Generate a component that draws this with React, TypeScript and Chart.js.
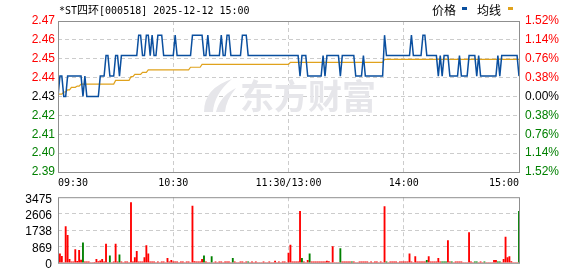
import React, { useEffect, useRef } from "react";
import { Chart, registerables } from "chart.js";

Chart.register(...registerables);

const titleParts = ["*ST", "四环", "[000518] 2025-12-12 15:00"];
const legendLabels = ["价格", "均线"];
const watermarkText = "东方财富";
const prevClose = 2.43;
const pctSteps = [-1.52, -1.14, -0.76, -0.38, 0, 0.38, 0.76, 1.14, 1.52];
const timeIdx = [0, 60, 120, 180, 240];
const timeLabels = ["09:30", "10:30", "11:30/13:00", "14:00", "15:00"];
const volMax = 3475;
const volTickLabels = ["0", "869", "1738", "2606", "3475"];

const price = [
  2.43, 2.44, 2.44, 2.43, 2.43, 2.44, 2.44, 2.44, 2.44, 2.44,
  2.44, 2.44, 2.44, 2.43, 2.44, 2.43, 2.43, 2.43, 2.43, 2.43,
  2.43, 2.43, 2.44, 2.44, 2.44, 2.45, 2.45, 2.44, 2.44, 2.44,
  2.45, 2.45, 2.44, 2.45, 2.45, 2.45, 2.45, 2.45, 2.45, 2.45,
  2.45, 2.45, 2.46, 2.46, 2.45, 2.45, 2.46, 2.46, 2.45, 2.46,
  2.45, 2.45, 2.46, 2.46, 2.46, 2.45, 2.45, 2.45, 2.45, 2.45,
  2.45, 2.46, 2.45, 2.45, 2.45, 2.45, 2.45, 2.45, 2.45, 2.45,
  2.46, 2.46, 2.46, 2.46, 2.46, 2.46, 2.45, 2.45, 2.46, 2.45,
  2.45, 2.45, 2.45, 2.45, 2.45, 2.46, 2.45, 2.45, 2.46, 2.46,
  2.45, 2.45, 2.45, 2.45, 2.45, 2.45, 2.46, 2.46, 2.46, 2.45,
  2.45, 2.45, 2.45, 2.45, 2.45, 2.45, 2.45, 2.45, 2.45, 2.45,
  2.45, 2.45, 2.45, 2.45, 2.45, 2.45, 2.45, 2.45, 2.45, 2.45,
  2.45, 2.45, 2.45, 2.45, 2.45, 2.45, 2.44, 2.45, 2.45, 2.45,
  2.44, 2.44, 2.44, 2.44, 2.44, 2.44, 2.44, 2.44, 2.45, 2.44,
  2.45, 2.45, 2.45, 2.45, 2.45, 2.45, 2.45, 2.44, 2.45, 2.45,
  2.45, 2.45, 2.45, 2.45, 2.45, 2.44, 2.44, 2.44, 2.44, 2.45,
  2.44, 2.44, 2.44, 2.44, 2.44, 2.44, 2.44, 2.44, 2.44, 2.44,
  2.46, 2.45, 2.45, 2.45, 2.45, 2.45, 2.45, 2.45, 2.45, 2.45,
  2.45, 2.45, 2.45, 2.45, 2.46, 2.45, 2.45, 2.45, 2.45, 2.45,
  2.46, 2.46, 2.45, 2.45, 2.45, 2.45, 2.45, 2.45, 2.44, 2.45,
  2.44, 2.45, 2.45, 2.45, 2.44, 2.44, 2.44, 2.44, 2.44, 2.45,
  2.44, 2.44, 2.44, 2.44, 2.45, 2.45, 2.45, 2.45, 2.44, 2.45,
  2.44, 2.44, 2.44, 2.44, 2.44, 2.44, 2.44, 2.44, 2.44, 2.45,
  2.44, 2.45, 2.45, 2.45, 2.45, 2.45, 2.45, 2.45, 2.45, 2.45,
  2.44,
];

const avgPrice = [
  2.4312, 2.4312, 2.4312, 2.4322, 2.4322, 2.4332, 2.4332, 2.4345, 2.4345, 2.4345,
  2.4351, 2.4351, 2.4361, 2.4361, 2.4361, 2.4361, 2.4361, 2.4361, 2.4361, 2.4361,
  2.4361, 2.4361, 2.4361, 2.4361, 2.4361, 2.4361, 2.4361, 2.4361, 2.4361, 2.4361,
  2.4379, 2.4379, 2.4379, 2.4379, 2.4379, 2.4379, 2.4379, 2.4379, 2.4397, 2.4397,
  2.4408, 2.4408, 2.4408, 2.4408, 2.4418, 2.4418, 2.4418, 2.443, 2.443, 2.443,
  2.443, 2.443, 2.443, 2.443, 2.443, 2.443, 2.443, 2.443, 2.443, 2.443,
  2.443, 2.443, 2.443, 2.443, 2.443, 2.443, 2.443, 2.443, 2.443, 2.4443,
  2.4443, 2.4443, 2.4443, 2.4443, 2.4443, 2.4457, 2.4457, 2.4457, 2.4457, 2.4457,
  2.4457, 2.4457, 2.4457, 2.4457, 2.4457, 2.4457, 2.4457, 2.4457, 2.4457, 2.4457,
  2.4457, 2.4457, 2.4457, 2.4457, 2.4457, 2.4457, 2.4457, 2.4457, 2.4457, 2.4457,
  2.4457, 2.4457, 2.4457, 2.4457, 2.4457, 2.4457, 2.4457, 2.4457, 2.4457, 2.4457,
  2.4457, 2.4457, 2.4457, 2.4457, 2.4457, 2.4457, 2.4457, 2.4457, 2.4457, 2.4457,
  2.4457, 2.4467, 2.4467, 2.4467, 2.4467, 2.4467, 2.4467, 2.4467, 2.4467, 2.4467,
  2.4467, 2.4467, 2.4467, 2.4467, 2.4467, 2.4467, 2.4467, 2.4467, 2.4467, 2.4467,
  2.4467, 2.4467, 2.4467, 2.4467, 2.4467, 2.4467, 2.4467, 2.4467, 2.4467, 2.4467,
  2.4467, 2.4467, 2.4467, 2.4467, 2.4467, 2.4467, 2.4467, 2.4467, 2.4467, 2.4467,
  2.4467, 2.4467, 2.4467, 2.4467, 2.4467, 2.4467, 2.4467, 2.4467, 2.4467, 2.4467,
  2.4482, 2.4482, 2.4482, 2.4482, 2.4482, 2.4482, 2.4482, 2.4482, 2.4482, 2.4482,
  2.4482, 2.4482, 2.4482, 2.4482, 2.4482, 2.4482, 2.4482, 2.4482, 2.4482, 2.4482,
  2.4482, 2.4482, 2.4482, 2.4482, 2.4482, 2.4482, 2.4482, 2.4482, 2.4482, 2.4482,
  2.4482, 2.4482, 2.4482, 2.4482, 2.4482, 2.4482, 2.4482, 2.4482, 2.4482, 2.4482,
  2.4482, 2.4482, 2.4482, 2.4482, 2.4482, 2.4482, 2.4482, 2.4482, 2.4482, 2.4482,
  2.4482, 2.4482, 2.4482, 2.4482, 2.4482, 2.4482, 2.4482, 2.4482, 2.4482, 2.4482,
  2.4482, 2.4482, 2.4482, 2.4482, 2.4482, 2.4482, 2.4482, 2.4482, 2.4482, 2.4482,
  2.4482,
];

const volume = [
  0, 470, 344, 0, 1925, 1455, 188, 50, 50, 704,
  80, 657, 150, 1064, 50, 50, 50, 0, 0, 30,
  188, 60, 100, 188, 50, 986, 0, 375, 0, 50,
  986, 50, 423, 50, 0, 50, 50, 0, 3193, 50,
  282, 610, 50, 50, 50, 282, 908, 470, 50, 50,
  50, 0, 50, 0, 50, 50, 0, 235, 50, 125,
  50, 50, 50, 0, 50, 50, 0, 50, 50, 0,
  3005, 60, 50, 50, 50, 188, 375, 50, 0, 0,
  329, 0, 50, 0, 50, 50, 0, 50, 50, 50,
  0, 235, 50, 0, 0, 50, 50, 0, 50, 50,
  0, 50, 0, 50, 0, 0, 0, 50, 0, 0,
  50, 0, 0, 94, 0, 50, 0, 50, 50, 0,
  516, 939, 50, 50, 50, 50, 2723, 235, 50, 0,
  125, 470, 50, 50, 50, 50, 50, 50, 50, 50,
  94, 60, 0, 861, 0, 0, 0, 751, 50, 50,
  50, 50, 50, 50, 50, 0, 0, 50, 50, 50,
  50, 50, 0, 50, 0, 50, 50, 0, 50, 0,
  2974, 50, 0, 50, 50, 50, 50, 0, 50, 50,
  50, 50, 50, 470, 50, 0, 329, 50, 50, 50,
  50, 50, 125, 329, 50, 50, 50, 50, 235, 50,
  50, 50, 50, 1174, 50, 50, 0, 50, 50, 50,
  50, 0, 0, 0, 1596, 50, 0, 50, 50, 0,
  50, 0, 50, 0, 0, 0, 0, 125, 125, 50,
  50, 0, 188, 1361, 282, 329, 60, 0, 0, 0,
  2723,
];

const volDownIdx = [13, 27, 32, 76, 80, 91, 99, 127, 131, 147, 153, 171, 192, 200, 201, 202, 205, 217, 218, 222, 229, 230, 240];

const RED = "#ff0000";
const GREEN = "#008000";
const BLACK = "#000000";
const PRICE_COLOR = "#0a4f9f";
const AVG_COLOR = "#e0a21c";
const GRID = "#cccccc";
const FRAME = "#8f8f8f";
const DASH = [4, 3];
const NUM_FONT = { family: "'Liberation Sans', Arial, sans-serif", size: 12 };
const MONO = "'DejaVu Sans Mono', 'Liberation Mono', monospace";
const CJK = "'Noto Sans CJK SC', sans-serif";

const priceTicks = pctSteps.map((p) => prevClose * (1 + p / 100));
const volTicks = volTickLabels.map((_, i) => (volMax * i) / (volTickLabels.length - 1));

const colorFor = (v: number) =>
  v > prevClose + 1e-9 ? RED : v < prevClose - 1e-9 ? GREEN : BLACK;

const framePlugin = {
  id: "frame",
  afterDatasetsDraw(chart: any) {
    const { ctx, chartArea: a } = chart;
    ctx.save();
    ctx.strokeStyle = FRAME;
    ctx.lineWidth = 1;
    ctx.strokeRect(a.left + 0.5, a.top + 0.5, a.right - a.left, a.bottom - a.top);
    ctx.restore();
  },
};

const headerPlugin = {
  id: "header",
  afterDraw(chart: any) {
    const ctx = chart.ctx;
    ctx.save();
    ctx.fillStyle = "#000";
    ctx.textBaseline = "alphabetic";
    let x = 59;
    titleParts.forEach((part) => {
      const isCjk = /[\u4e00-\u9fff]/.test(part);
      ctx.font = isCjk ? `11px ${CJK}` : `10px ${MONO}`;
      ctx.fillText(part, x, 14);
      x += ctx.measureText(part).width;
    });
    ctx.font = `12px ${CJK}`;
    ctx.fillText(legendLabels[0], 432, 15);
    ctx.fillStyle = PRICE_COLOR;
    ctx.fillRect(462, 7, 5, 3);
    ctx.fillStyle = "#000";
    ctx.fillText(legendLabels[1], 477, 15);
    ctx.fillStyle = AVG_COLOR;
    ctx.fillRect(508, 7, 5, 3);
    ctx.restore();
  },
};

const watermarkPlugin = {
  id: "watermark",
  beforeDatasetsDraw(chart: any) {
    const ctx = chart.ctx;
    ctx.save();
    ctx.fillStyle = "#e6e6ea";
    ctx.font = `bold 34px ${CJK}`;
    ctx.textBaseline = "alphabetic";
    ctx.fillText(watermarkText, 240, 109);
    ctx.beginPath();
    ctx.moveTo(204, 112);
    ctx.quadraticCurveTo(204, 88, 232, 79);
    ctx.quadraticCurveTo(214, 94, 213, 112);
    ctx.closePath();
    ctx.fill();
    ctx.beginPath();
    ctx.moveTo(216, 112);
    ctx.quadraticCurveTo(220, 96, 236, 88);
    ctx.quadraticCurveTo(226, 100, 225, 112);
    ctx.closePath();
    ctx.fill();
    ctx.restore();
  },
};

const edgeTransparent = (edges: number[]) => (ctx: any) => {
  const v = ctx.tick ? ctx.tick.value : null;
  if (v === null) return GRID;
  return edges.some((e) => Math.abs(e - v) < 1e-9) ? "rgba(0,0,0,0)" : GRID;
};

export default function App() {
  const priceRef = useRef<HTMLCanvasElement>(null);
  const volRef = useRef<HTMLCanvasElement>(null);

  useEffect(() => {
    const xTimeScale = (showLabels: boolean) => ({
      type: "linear",
      min: 0,
      max: 240,
      offset: false,
      afterBuildTicks: (s: any) => {
        s.ticks = timeIdx.map((v) => ({ value: v }));
      },
      afterFit: (s: any) => {
        s.height = showLabels ? 20 : 0;
      },
      ticks: {
        display: showLabels,
        autoSkip: false,
        maxRotation: 0,
        align: "inner",
        padding: 5,
        color: "#000",
        font: { family: MONO, size: 10 },
        callback: (v: number) => timeLabels[timeIdx.indexOf(v)] ?? "",
      },
      grid: { color: edgeTransparent([0, 240]), drawTicks: false, lineWidth: 1, offset: false },
      border: { display: false, dash: DASH },
    });

    const pc = new Chart(priceRef.current!, {
      type: "line",
      data: {
        datasets: [
          {
            data: price.map((y, i) => ({ x: i, y })),
            borderColor: PRICE_COLOR,
            borderWidth: 1.5,
            pointRadius: 0,
            tension: 0,
          },
          {
            data: avgPrice.map((y, i) => ({ x: i, y })),
            borderColor: AVG_COLOR,
            borderWidth: 1.2,
            pointRadius: 0,
            tension: 0,
          },
        ],
      },
      options: {
        animation: false,
        responsive: false,
        maintainAspectRatio: false,
        layout: { padding: { top: 21, left: 0, right: 0, bottom: 0 } },
        plugins: { legend: { display: false }, tooltip: { enabled: false } },
        scales: {
          x: xTimeScale(true) as any,
          y: {
            type: "linear",
            position: "left",
            min: priceTicks[0],
            max: priceTicks[priceTicks.length - 1],
            afterBuildTicks: (s: any) => {
              s.ticks = priceTicks.map((v) => ({ value: v }));
            },
            afterFit: (s: any) => {
              s.width = 58;
            },
            ticks: {
              padding: 3,
              font: NUM_FONT,
              color: (ctx: any) => colorFor(ctx.tick.value),
              callback: (v: number) => v.toFixed(2),
            },
            grid: {
              color: edgeTransparent([priceTicks[0], priceTicks[priceTicks.length - 1]]),
              drawTicks: false,
            },
            border: { display: false, dash: DASH },
          },
          y2: {
            type: "linear",
            position: "right",
            min: priceTicks[0],
            max: priceTicks[priceTicks.length - 1],
            afterBuildTicks: (s: any) => {
              s.ticks = priceTicks.map((v) => ({ value: v }));
            },
            afterFit: (s: any) => {
              s.width = 59;
            },
            ticks: {
              padding: 6,
              font: NUM_FONT,
              color: (ctx: any) => colorFor(ctx.tick.value),
              callback: (v: number) => Math.abs((v / prevClose - 1) * 100).toFixed(2) + "%",
            },
            grid: { display: false, drawTicks: false },
            border: { display: false },
          },
        },
      },
      plugins: [watermarkPlugin, framePlugin, headerPlugin],
    } as any);

    const downSet = new Set(volDownIdx);
    const vc = new Chart(volRef.current!, {
      type: "bar",
      data: {
        datasets: [
          {
            data: volume.map((y, i) => ({ x: i, y })),
            backgroundColor: volume.map((_, i) => (downSet.has(i) ? GREEN : RED)),
            barThickness: 1.2,
            borderWidth: 0,
          },
        ],
      },
      options: {
        animation: false,
        responsive: false,
        maintainAspectRatio: false,
        layout: { padding: { top: 12, left: 0, right: 59, bottom: 6 } },
        plugins: { legend: { display: false }, tooltip: { enabled: false } },
        scales: {
          x: xTimeScale(false) as any,
          y: {
            type: "linear",
            position: "left",
            min: 0,
            max: volMax,
            afterBuildTicks: (s: any) => {
              s.ticks = volTicks.map((v) => ({ value: v }));
            },
            afterFit: (s: any) => {
              s.width = 58;
            },
            ticks: {
              padding: 6,
              labelOffset: 2,
              font: NUM_FONT,
              color: "#000",
              callback: (v: number) => volTickLabels[volTicks.indexOf(v)] ?? "",
            },
            grid: { color: edgeTransparent([0, volMax]), drawTicks: false },
            border: { display: false, dash: DASH },
          },
        },
      },
      plugins: [framePlugin],
    } as any);

    return () => {
      pc.destroy();
      vc.destroy();
    };
  }, []);

  return (
    <div style={{ position: "absolute", left: 0, top: 0, width: 578, height: 276, background: "#fff" }}>
      <canvas
        ref={priceRef}
        width={578}
        height={192}
        style={{ position: "absolute", left: 0, top: 0, width: 578, height: 192 }}
      />
      <canvas
        ref={volRef}
        width={578}
        height={92}
        style={{ position: "absolute", left: 0, top: 184, width: 578, height: 92 }}
      />
    </div>
  );
}
